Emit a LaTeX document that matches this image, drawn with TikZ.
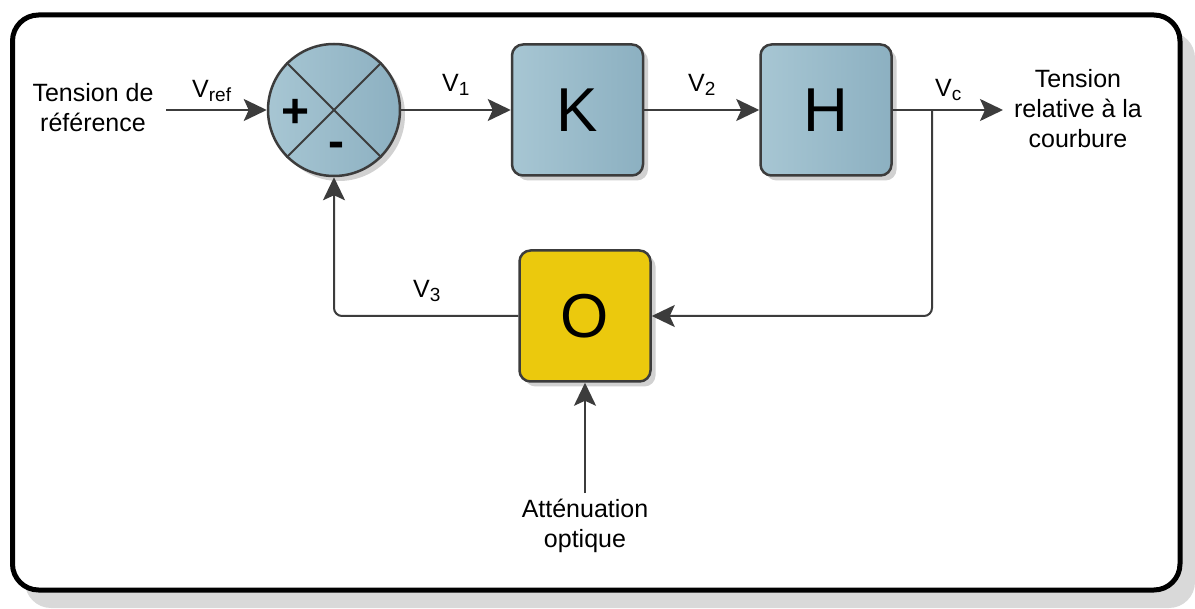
\documentclass[tikz,border=0pt]{standalone}
\usepackage{fontspec}
\setmainfont{Liberation Sans}
\usetikzlibrary{positioning}
\usetikzlibrary{arrows.meta}
\usetikzlibrary{shadows}

\definecolor{bleuA}{HTML}{A7C6D3}
\definecolor{bleuB}{HTML}{8CB0C1}
\definecolor{jaune}{HTML}{EBC90D}
\definecolor{trait}{HTML}{3C3C3C}
\definecolor{ombre}{HTML}{D9D9D9}

\newcommand{\Vind}[1]{V\raisebox{-4pt}{\fontsize{19}{19}\selectfont #1}}

\begin{document}
\begin{tikzpicture}[x=1pt,y=-1pt,
  bloc/.style={draw=trait, line width=2.5pt, rounded corners=11pt,
    minimum width=131pt, minimum height=131pt, inner sep=0pt,
    font=\fontsize{62}{62}\selectfont,
    drop shadow={shadow xshift=5pt, shadow yshift=-5pt, fill=black!18, opacity=1}},
  blocbleu/.style={bloc, left color=bleuA, right color=bleuB},
  fleche/.style={draw=trait, line width=2pt, -{Stealth[length=23pt,width=22pt,inset=5pt]}},
  lien/.style={draw=trait, line width=2pt},
  etiq/.style={font=\fontsize{25}{30}\selectfont, align=center, inner sep=0pt},
  sig/.style={font=\fontsize{25}{25}\selectfont, inner sep=0pt, anchor=base west},
  signe/.style={font=\bfseries\fontsize{48}{48}\selectfont, inner sep=0pt}]

\useasboundingbox (0,0) rectangle (1195,609);

% cadre
\fill[ombre, rounded corners=26pt] (25,32) rectangle (1195,608);
\draw[line width=5pt, fill=white, rounded corners=26pt] (12.5,15) rectangle (1180,590);

% comparateur
\node[circle, draw=trait, line width=2.5pt, left color=bleuA, right color=bleuB,
  minimum size=132pt, inner sep=0pt,
  drop shadow={shadow xshift=5pt, shadow yshift=-5pt, fill=black!18, opacity=1}] (sum) at (334,110) {};
\draw[lien] (sum.north west) -- (sum.south east);
\draw[lien] (sum.south west) -- (sum.north east);
\node[signe] (plus) at (296,113) {+};
\node[signe] (moins) at (336,150) {-};

% blocs
\node[blocbleu] (K) at (577.5,110) {K};
\node[blocbleu] (H) at (826,110) {H};
\node[bloc, fill=jaune] (O) at (585,316) {O};

% textes
\node[etiq] (entree) at (93,108) {Tension de\\référence};
\node[etiq] (sortie) at (1078,109) {Tension\\relative à la\\courbure};
\node[etiq] (atten) at (585,526) {Atténuation\\optique};

\coordinate (depart) at (166,110);
\coordinate (arrivee) at (1003,110);
\coordinate (branche) at (932,110);

% liaisons
\draw[fleche] (depart) -- (sum.west);
\draw[fleche] (sum.east) -- (K.west);
\draw[fleche] (K.east) -- (H.west);
\draw[fleche] (H.east) -- (arrivee);
\draw[fleche, rounded corners=8pt] (branche) |- (O.east);
\draw[fleche, rounded corners=8pt] (O.west) -| (sum.south);
\draw[fleche, shorten <=6pt] (atten.north) -- (O.south);

% signaux
\node[sig] (lvref) at (192,98) {\Vind{ref}};
\node[sig] (lv1) at (442,92) {\Vind{1}};
\node[sig] (lv2) at (688,92) {\Vind{2}};
\node[sig] (lvc) at (935,97) {\Vind{c}};
\node[sig] (lv3) at (413,298) {\Vind{3}};

\end{tikzpicture}
\end{document}
